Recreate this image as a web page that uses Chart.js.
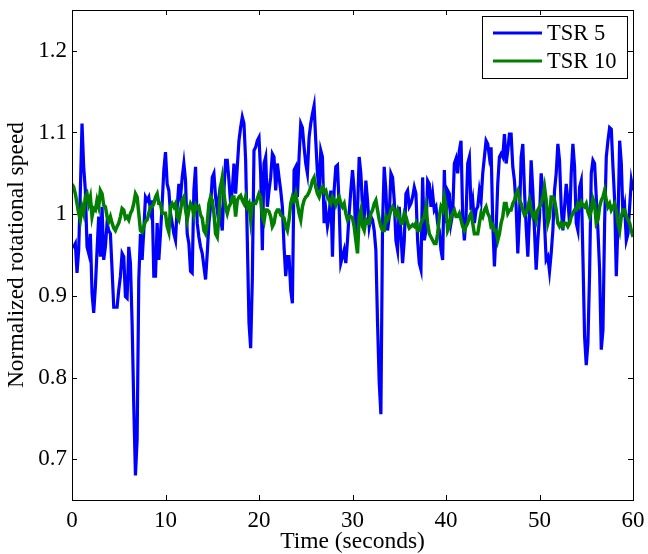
<!DOCTYPE html>
<html>
<head>
<meta charset="utf-8">
<script src="https://cdn.jsdelivr.net/npm/chart.js@4.4.1/dist/chart.umd.min.js"></script>
<style>
  html, body { margin: 0; padding: 0; background: #fff; }
  canvas { display: block; }
</style>
</head>
<body>
<canvas id="speedChart" width="648" height="554"></canvas>
<script>
// samples are evenly spaced over 0..60 s
const tStart = 0;
const tEnd = 60;

const xTicks = [0, 10, 20, 30, 40, 50, 60];
const yTicks = [0.7, 0.8, 0.9, 1, 1.1, 1.2];

const seriesLabels = ["TSR 5", "TSR 10"];

const tsr5 = [
  0.960, 0.960, 0.964, 0.928, 0.956, 1.029, 1.111, 1.058, 1.029, 0.960, 0.952, 0.976,
  0.903, 0.879, 0.911, 0.956, 0.997, 0.948, 1.009, 0.944, 0.960, 0.989, 0.980, 0.976,
  0.932, 0.886, 0.886, 0.886, 0.907, 0.924, 0.952, 0.948, 0.899, 0.897, 0.960, 0.940,
  0.867, 0.765, 0.680, 0.724, 0.920, 0.976, 0.944, 0.980, 1.021, 1.017, 1.021, 1.005,
  1.017, 0.924, 0.924, 0.989, 0.944, 0.976, 1.013, 1.054, 1.076, 1.037, 1.029, 1.001,
  0.989, 0.976, 0.968, 1.009, 1.037, 1.021, 1.045, 1.062, 1.041, 0.976, 0.964, 0.930,
  0.928, 1.029, 1.058, 0.989, 0.972, 0.960, 0.952, 0.936, 0.920, 0.952, 0.989, 1.009,
  1.045, 1.050, 1.021, 1.005, 1.021, 0.997, 0.980, 1.029, 1.066, 1.066, 1.041, 1.013,
  1.029, 1.062, 1.025, 1.058, 1.090, 1.106, 1.119, 1.111, 1.066, 0.968, 0.867, 0.836,
  0.920, 1.078, 1.082, 1.090, 1.094, 1.050, 0.956, 1.062, 1.070, 1.009, 1.029, 1.045,
  1.074, 1.070, 1.029, 1.062, 1.045, 1.029, 1.009, 0.960, 0.924, 0.948, 0.948, 0.907,
  0.891, 1.054, 1.058, 1.021, 1.070, 1.111, 1.106, 1.082, 1.062, 1.050, 1.094, 1.111,
  1.123, 1.133, 1.090, 1.050, 1.029, 1.078, 1.070, 0.989, 1.005, 0.985, 0.997, 1.029,
  0.948, 1.029, 1.058, 1.060, 1.009, 0.940, 0.948, 0.956, 0.940, 0.968, 1.001, 1.029,
  1.054, 1.029, 0.968, 1.005, 1.070, 1.050, 1.009, 0.989, 1.041, 1.017, 0.985, 0.997,
  0.993, 0.980, 0.956, 0.867, 0.794, 0.755, 0.989, 1.058, 1.029, 0.980, 0.997, 1.050,
  1.045, 1.017, 0.968, 0.956, 1.009, 0.976, 0.940, 0.968, 1.025, 1.029, 1.009, 1.013,
  1.021, 1.033, 1.025, 0.968, 0.940, 0.932, 1.045, 0.968, 0.980, 1.041, 1.037, 1.009,
  1.025, 1.005, 1.009, 0.989, 0.980, 0.956, 0.944, 1.054, 0.989, 1.029, 1.025, 0.989,
  1.001, 1.062, 1.068, 1.050, 1.078, 1.090, 0.997, 0.968, 0.997, 1.062, 1.070, 1.005,
  1.017, 0.989, 1.005, 1.009, 1.029, 1.017, 1.050, 1.070, 1.090, 1.086, 1.070, 1.082,
  0.989, 0.936, 0.980, 1.037, 1.070, 1.074, 1.070, 1.098, 1.062, 1.078, 1.098, 1.098,
  1.058, 1.041, 1.009, 0.952, 0.997, 1.070, 1.086, 1.029, 0.985, 0.948, 0.997, 1.066,
  1.029, 0.980, 0.932, 0.968, 0.997, 1.050, 1.029, 0.989, 0.944, 0.948, 0.930, 0.952,
  0.980, 1.029, 1.050, 1.086, 1.066, 1.009, 0.980, 1.009, 1.037, 1.017, 0.989, 1.050,
  1.086, 1.058, 0.989, 0.980, 1.033, 1.041, 0.948, 0.850, 0.815, 0.842, 0.928, 1.050,
  1.066, 1.062, 1.021, 0.980, 0.932, 0.834, 0.858, 0.989, 1.070, 1.090, 1.106, 1.104,
  1.058, 1.017, 0.924, 0.989, 1.090, 1.062, 0.997, 1.009, 0.968, 0.976, 1.009, 1.041,
  1.029
];

const tsr10 = [
  1.037, 1.033, 1.025, 1.013, 1.001, 0.993, 1.009, 1.001, 1.021, 1.025, 1.013, 1.021,
  0.997, 1.007, 1.005, 1.017, 1.009, 1.029, 1.025, 1.011, 1.009, 0.997, 0.991, 0.997,
  0.989, 0.983, 0.980, 0.985, 0.989, 0.997, 1.007, 1.005, 0.995, 0.997, 0.993, 1.001,
  1.005, 1.013, 1.025, 1.021, 1.001, 0.980, 0.978, 0.985, 0.991, 0.993, 1.001, 1.009,
  1.009, 1.013, 1.021, 1.025, 1.013, 1.013, 1.001, 1.001, 1.001, 0.985, 0.978, 1.009,
  1.013, 1.009, 1.013, 0.997, 0.993, 1.005, 1.017, 1.021, 1.005, 0.993, 1.005, 1.013,
  1.009, 0.999, 1.011, 1.007, 1.009, 0.999, 0.995, 0.980, 0.976, 0.989, 1.013, 1.021,
  1.017, 1.001, 0.976, 0.972, 0.997, 1.033, 1.045, 1.025, 1.009, 1.001, 1.009, 1.013,
  1.021, 1.021, 0.997, 1.017, 1.021, 1.023, 1.017, 1.013, 1.021, 1.009, 1.013, 0.993,
  1.013, 1.013, 1.013, 1.019, 1.025, 1.021, 0.997, 0.991, 1.005, 1.005, 1.003, 0.997,
  0.985, 0.989, 1.001, 1.005, 1.005, 0.999, 0.997, 0.995, 0.985, 0.980, 0.993, 1.013,
  1.021, 1.017, 1.025, 1.013, 1.001, 0.993, 1.009, 1.017, 1.021, 1.023, 1.027, 1.033,
  1.041, 1.045, 1.033, 1.025, 1.021, 1.029, 1.033, 1.027, 1.029, 1.021, 1.017, 1.013,
  1.021, 1.017, 1.011, 1.017, 1.021, 1.013, 1.009, 1.013, 1.001, 0.993, 0.997, 0.997,
  0.995, 0.985, 0.968, 0.952, 0.997, 1.005, 0.985, 0.980, 0.993, 0.989, 0.989, 1.001,
  1.005, 1.013, 1.017, 1.005, 0.993, 0.985, 0.980, 0.980, 0.997, 0.993, 0.997, 1.005,
  1.009, 1.005, 0.999, 1.005, 0.997, 0.989, 0.989, 1.001, 0.997, 0.989, 0.983, 0.985,
  0.987, 0.985, 0.989, 0.980, 0.980, 0.989, 0.993, 0.997, 1.009, 0.989, 0.976, 0.972,
  0.968, 0.964, 0.964, 0.976, 0.997, 1.009, 1.005, 1.021, 1.009, 0.980, 0.985, 0.997,
  1.001, 1.005, 0.997, 0.997, 1.001, 0.993, 0.985, 0.980, 0.985, 0.989, 0.997, 1.001,
  0.989, 0.976, 0.976, 0.976, 0.989, 1.001, 0.997, 1.005, 1.009, 1.001, 0.997, 0.985,
  0.987, 0.980, 0.980, 0.968, 0.976, 0.989, 0.997, 1.013, 1.013, 1.001, 1.005, 1.005,
  1.013, 1.017, 1.025, 1.029, 1.017, 1.013, 1.005, 0.999, 1.001, 1.009, 1.017, 1.005,
  0.997, 1.001, 0.993, 1.005, 1.009, 1.013, 1.021, 1.033, 1.017, 0.989, 0.997, 1.021,
  1.021, 1.017, 1.005, 0.989, 0.985, 0.989, 0.985, 0.989, 0.989, 0.985, 0.989, 0.997,
  1.001, 1.005, 1.005, 1.013, 1.009, 1.015, 1.011, 1.009, 1.013, 1.003, 0.997, 1.005,
  1.019, 1.013, 0.989, 0.993, 1.009, 1.017, 1.021, 1.029, 1.017, 1.009, 1.013, 1.005,
  1.009, 1.013, 1.005, 0.989, 0.980, 0.997, 1.005, 1.005, 0.997, 0.993, 0.989, 0.980,
  0.972
];

const FONT = "'Liberation Serif', 'Times New Roman', serif";
const BLUE = "#0000ff";
const GREEN = "#007f00";

function toPoints(values) {
  const dt = (tEnd - tStart) / (values.length - 1);
  return values.map((v, i) => ({ x: tStart + i * dt, y: v }));
}

// ===== FRAME + INWARD TICKS =====
const framePlugin = {
  id: "frame",
  afterDatasetsDraw(chart) {
    const { ctx, chartArea: a, scales } = chart;
    const len = 5;
    ctx.save();
    ctx.strokeStyle = "#000";
    ctx.lineWidth = 1;
    ctx.beginPath();
    scales.x.ticks.forEach((t) => {
      const px = Math.round(scales.x.getPixelForValue(t.value)) + 0.5;
      ctx.moveTo(px, a.bottom);
      ctx.lineTo(px, a.bottom - len);
      ctx.moveTo(px, a.top);
      ctx.lineTo(px, a.top + len);
    });
    scales.y.ticks.forEach((t) => {
      const py = Math.round(scales.y.getPixelForValue(t.value)) + 0.5;
      ctx.moveTo(a.left, py);
      ctx.lineTo(a.left + len, py);
      ctx.moveTo(a.right, py);
      ctx.lineTo(a.right - len, py);
    });
    ctx.stroke();
    ctx.strokeRect(
      Math.round(a.left) + 0.5,
      Math.round(a.top) + 0.5,
      Math.round(a.right - a.left),
      Math.round(a.bottom - a.top)
    );
    ctx.restore();
  }
};

// ===== LEGEND BOX (top right, inside the plot) =====
const legendPlugin = {
  id: "boxLegend",
  afterDraw(chart) {
    const { ctx, chartArea: a } = chart;
    const w = 145;
    const h = 62;
    const x0 = Math.round(a.right) - 6 - w;
    const y0 = Math.round(a.top) + 6;
    ctx.save();
    ctx.fillStyle = "#fff";
    ctx.fillRect(x0, y0, w, h);
    ctx.strokeStyle = "#000";
    ctx.lineWidth = 1;
    ctx.strokeRect(x0 + 0.5, y0 + 0.5, w, h);
    ctx.font = "22.5px " + FONT;
    ctx.textBaseline = "middle";
    ctx.textAlign = "left";
    chart.data.datasets.forEach((ds, i) => {
      const y = y0 + 17 + i * 28;
      ctx.strokeStyle = ds.borderColor;
      ctx.lineWidth = 3;
      ctx.beginPath();
      ctx.moveTo(x0 + 11, y);
      ctx.lineTo(x0 + 60, y);
      ctx.stroke();
      ctx.fillStyle = "#000";
      ctx.fillText(ds.label, x0 + 65, y + 1);
    });
    ctx.restore();
  }
};

const ctx = document.getElementById("speedChart").getContext("2d");
new Chart(ctx, {
  type: "line",
  data: {
    datasets: [
      {
        label: seriesLabels[0],
        data: toPoints(tsr5),
        borderColor: BLUE,
        borderWidth: 3.2,
        pointRadius: 0,
        tension: 0,
        order: 1
      },
      {
        label: seriesLabels[1],
        data: toPoints(tsr10),
        borderColor: GREEN,
        borderWidth: 3.5,
        pointRadius: 0,
        tension: 0,
        order: 0
      }
    ]
  },
  options: {
    responsive: false,
    animation: false,
    devicePixelRatio: 1,
    layout: { padding: { top: 10, right: 15, left: 0, bottom: 0 } },
    plugins: {
      legend: { display: false },
      tooltip: { enabled: false }
    },
    scales: {
      x: {
        type: "linear",
        min: tStart,
        max: tEnd,
        afterBuildTicks: (s) => { s.ticks = xTicks.map((v) => ({ value: v })); },
        afterFit: (s) => {
          s.height = 54;
          s.paddingLeft = 0;
          s.paddingRight = 0;
        },
        grid: { display: false, drawTicks: false },
        border: { display: false },
        ticks: {
          padding: 7,
          color: "#000",
          font: { family: FONT, size: 23 },
          maxRotation: 0
        },
        title: {
          display: true,
          text: "Time (seconds)",
          color: "#000",
          font: { family: FONT, size: 23.5, lineHeight: 1 },
          padding: { top: 0, bottom: 0 }
        }
      },
      y: {
        min: 0.65,
        max: 1.25,
        afterBuildTicks: (s) => { s.ticks = yTicks.map((v) => ({ value: v })); },
        afterFit: (s) => {
          s.width = 72;
          s.paddingTop = 0;
          s.paddingBottom = 0;
        },
        grid: { display: false, drawTicks: false },
        border: { display: false },
        ticks: {
          padding: 5,
          color: "#000",
          font: { family: FONT, size: 23 },
          callback: (v) => String(v)
        },
        title: {
          display: true,
          text: "Normalized rotational speed",
          color: "#000",
          font: { family: FONT, size: 23.5, lineHeight: 1 },
          padding: { top: 5, bottom: 0 }
        }
      }
    }
  },
  plugins: [framePlugin, legendPlugin]
});
</script>
</body>
</html>
